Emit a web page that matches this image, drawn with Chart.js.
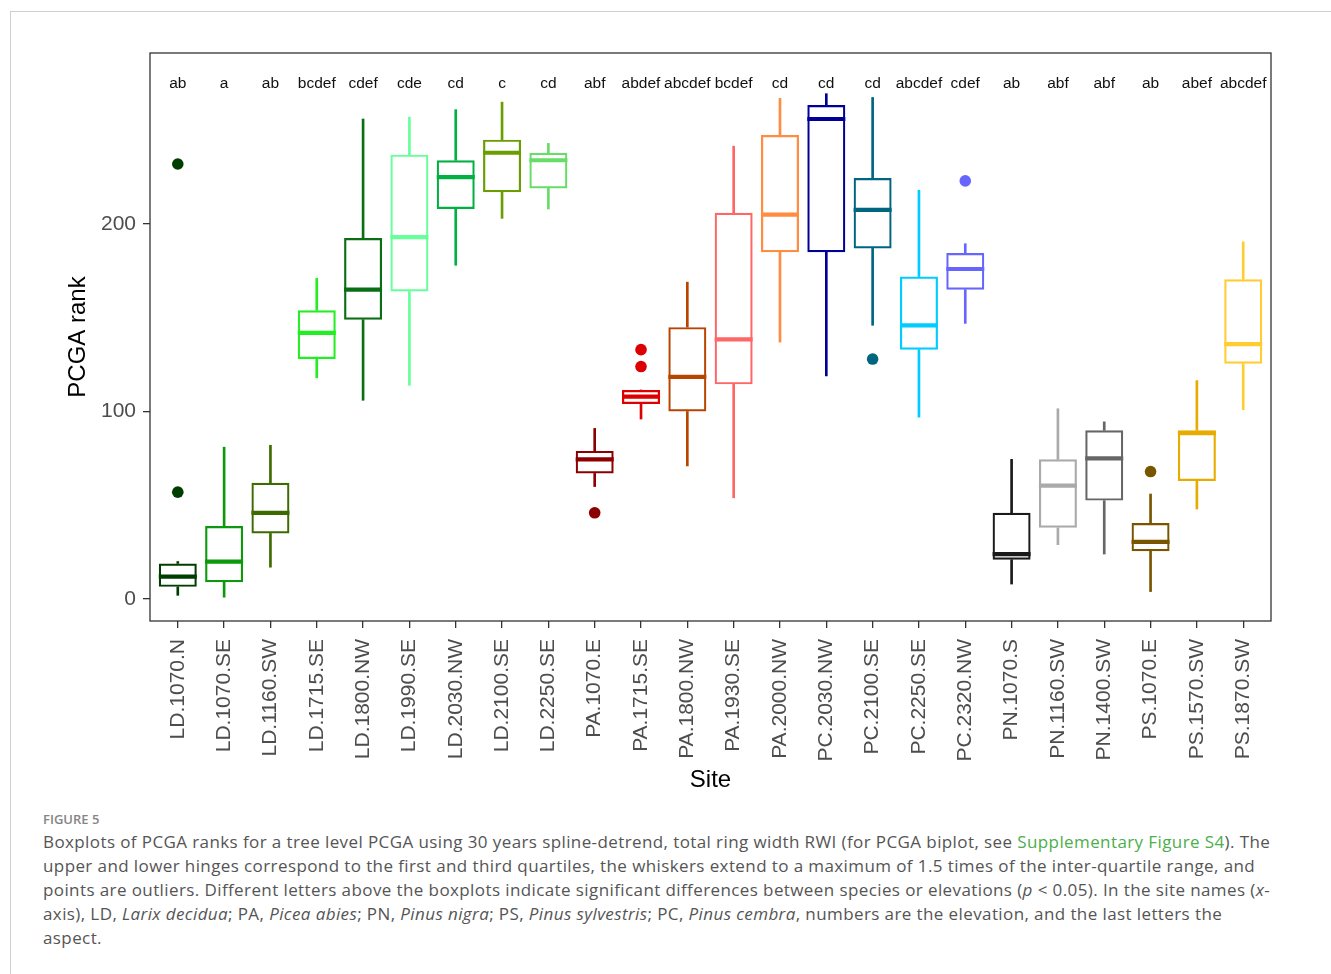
<!DOCTYPE html>
<html>
<head>
<meta charset="utf-8">
<script src="https://cdn.jsdelivr.net/npm/chart.js@4.4.1/dist/chart.umd.min.js"></script>
<style>
  body { margin: 0; background: #fff; width: 1331px; height: 974px; overflow: hidden; position: relative; }
  #frame { position: absolute; left: 10px; top: 11px; right: 0; bottom: 0; border-left: 1px solid #cfcfcf; border-top: 1px solid #cfcfcf; }
  #chart { position: absolute; left: 0; top: 0; }
  #caption { position: absolute; left: 43px; top: 810px; font-family: 'Open Sans', sans-serif; color: #555; }
  .fig { font-size: 13px; color: #858585; font-weight: 600; margin-bottom: 2px; }
  .line { font-size: 17px; line-height: 24px; white-space: nowrap; letter-spacing: 0.4px; }
  .link { color: #4cae4c; }
</style>
</head>
<body>
<div id="frame"></div>
<canvas id="chart" width="1331" height="800"></canvas>
<div id="caption">
  <div class="fig">FIGURE 5</div>
  <div class="line">Boxplots of PCGA ranks for a tree level PCGA using 30 years spline-detrend, total ring width RWI (for PCGA biplot, see <span class="link">Supplementary Figure S4</span>). The</div>
  <div class="line">upper and lower hinges correspond to the first and third quartiles, the whiskers extend to a maximum of 1.5 times of the inter-quartile range, and</div>
  <div class="line">points are outliers. Different letters above the boxplots indicate significant differences between species or elevations (<i>p</i> &lt; 0.05). In the site names (<i>x</i>-</div>
  <div class="line">axis), LD, <i>Larix decidua</i>; PA, <i>Picea abies</i>; PN, <i>Pinus nigra</i>; PS, <i>Pinus sylvestris</i>; PC, <i>Pinus cembra</i>, numbers are the elevation, and the last letters the</div>
  <div class="line">aspect.</div>
</div>
<script>
const sites = ['LD.1070.N', 'LD.1070.SE', 'LD.1160.SW', 'LD.1715.SE', 'LD.1800.NW', 'LD.1990.SE',
  'LD.2030.NW', 'LD.2100.SE', 'LD.2250.SE', 'PA.1070.E', 'PA.1715.SE', 'PA.1800.NW',
  'PA.1930.SE', 'PA.2000.NW', 'PC.2030.NW', 'PC.2100.SE', 'PC.2250.SE', 'PC.2320.NW',
  'PN.1070.S', 'PN.1160.SW', 'PN.1400.SW', 'PS.1070.E', 'PS.1570.SW', 'PS.1870.SW'];

const letters = ['ab', 'a', 'ab', 'bcdef', 'cdef', 'cde', 'cd', 'c', 'cd', 'abf', 'abdef', 'abcdef',
  'bcdef', 'cd', 'cd', 'cd', 'abcdef', 'cdef', 'ab', 'abf', 'abf', 'ab', 'abef', 'abcdef'];

const whiskerLow  = [2, 1, 17, 118, 106, 114, 178, 203, 208, 60, 96, 71, 54, 137, 119, 146, 97, 147, 8, 29, 24, 4, 48, 101];
const q1          = [6.5, 9, 35, 128, 149, 164, 208, 217, 219, 67, 104, 100, 114.5, 185, 185, 187, 133, 165, 21, 38, 52.5, 25.5, 63, 125.5];
const median      = [12, 20, 46, 142, 165, 193, 225, 238, 234, 74.5, 108, 118.5, 138.5, 205, 256, 207.5, 146, 176, 24, 60.5, 75, 30.5, 88.5, 136];
const q3          = [19, 39, 62, 154, 192.5, 237, 234, 245, 238, 79, 111.5, 145, 206, 247.5, 263.5, 224.5, 172, 184.5, 46, 74.5, 90, 40.5, 90, 170.5];
const whiskerHigh = [20, 81, 82, 171, 256, 257, 261, 265, 243, 91, 111.5, 169, 241.5, 267, 269.5, 267.5, 218, 189.5, 74.5, 101.5, 94.5, 56, 116.5, 190.5];

// outliers: site index + value
const outlierSite  = [0, 0, 9, 10, 10, 15, 17, 21];
const outlierValue = [232, 57, 46, 133, 124, 128, 223, 68];

const colors = ['#003d00', '#0c9a0c', '#3d6b00', '#22ee22', '#0a6e14', '#66ff99',
  '#00b040', '#6a9e00', '#66dd66', '#8b0000', '#dd0000', '#b84400',
  '#ff6666', '#ff8c40', '#000099', '#006680', '#00ccff', '#6666ff',
  '#1a1a1a', '#aaaaaa', '#666666', '#7a5500', '#e6ac00', '#ffcc33'];

const letterY = 275;
const FONT = "'Liberation Sans', Arial, sans-serif";

const idx = sites.map((_, i) => i);

const framePlugin = {
  id: 'frame',
  afterDraw(chart) {
    const { ctx, chartArea: a, scales } = chart;
    ctx.save();
    ctx.strokeStyle = '#333';
    ctx.lineWidth = 1.3;
    ctx.strokeRect(a.left, a.top, a.right - a.left, a.bottom - a.top);
    // significance letters
    ctx.fillStyle = '#111';
    ctx.font = '15.5px ' + FONT;
    ctx.textAlign = 'center';
    ctx.textBaseline = 'middle';
    letters.forEach((l, i) => {
      ctx.fillText(l, scales.x.getPixelForValue(i), scales.y.getPixelForValue(letterY));
    });
    ctx.restore();
  }
};

new Chart(document.getElementById('chart'), {
  type: 'bar',
  data: {
    datasets: [
      {
        type: 'scatter',
        label: 'outliers',
        data: outlierSite.map((s, k) => ({ x: s, y: outlierValue[k] })),
        pointRadius: 5.8,
        pointBorderWidth: 0,
        pointBackgroundColor: outlierSite.map(s => colors[s]),
        showLine: false
      },
      {
        type: 'scatter',
        label: 'median',
        data: idx.map(i => ({ x: i, y: median[i] })),
        pointStyle: 'line',
        pointRadius: 19,
        pointBorderWidth: 4.2,
        pointBorderColor: colors,
        showLine: false
      },
      {
        label: 'box',
        data: idx.map(i => ({ x: i, y: [q1[i], q3[i]] })),
        backgroundColor: 'rgba(255,255,255,0)',
        borderColor: colors,
        borderWidth: 2.2,
        borderSkipped: false,
        barPercentage: 1,
        categoryPercentage: 0.82,
        grouped: false
      },
      {
        label: 'lower whisker',
        data: idx.map(i => ({ x: i, y: [whiskerLow[i], q1[i]] })),
        backgroundColor: colors,
        borderWidth: 0,
        barThickness: 2,
        grouped: false
      },
      {
        label: 'upper whisker',
        data: idx.map(i => ({ x: i, y: [q3[i], whiskerHigh[i]] })),
        backgroundColor: colors,
        borderWidth: 0,
        barThickness: 2,
        grouped: false
      }
    ]
  },
  options: {
    responsive: false,
    animation: false,
    events: [],
    layout: { padding: { top: 53, right: 60, left: 0, bottom: 0 } },
    plugins: { legend: { display: false }, tooltip: { enabled: false } },
    scales: {
      x: {
        type: 'linear',
        min: -0.6,
        max: 23.6,
        offset: false,
        afterBuildTicks: s => { s.ticks = idx.map(i => ({ value: i })); },
        afterFit: s => { s.height = 179; },
        border: { display: false },
        grid: { offset: false, drawOnChartArea: false, tickLength: 7, color: '#333', lineWidth: 1.3 },
        ticks: {
          autoSkip: false, maxRotation: 90, minRotation: 90, padding: 11,
          color: '#4d4d4d', font: { size: 21, family: FONT },
          callback: v => sites[v]
        },
        title: { display: true, text: 'Site', color: '#000', font: { size: 24, family: FONT }, padding: { top: 0, bottom: 5 } }
      },
      y: {
        min: -11.7,
        max: 291.2,
        afterBuildTicks: s => { s.ticks = [0, 100, 200].map(v => ({ value: v })); },
        afterFit: s => { s.width = 150; },
        border: { display: false },
        grid: { drawOnChartArea: false, tickLength: 7, color: '#333', lineWidth: 1.3 },
        ticks: { color: '#4d4d4d', font: { size: 21, family: FONT }, padding: 7 },
        title: { display: true, text: 'PCGA rank', color: '#000', font: { size: 24, family: FONT }, padding: { top: 64, bottom: 0 } }
      }
    }
  },
  plugins: [framePlugin]
});
</script>
</body>
</html>
